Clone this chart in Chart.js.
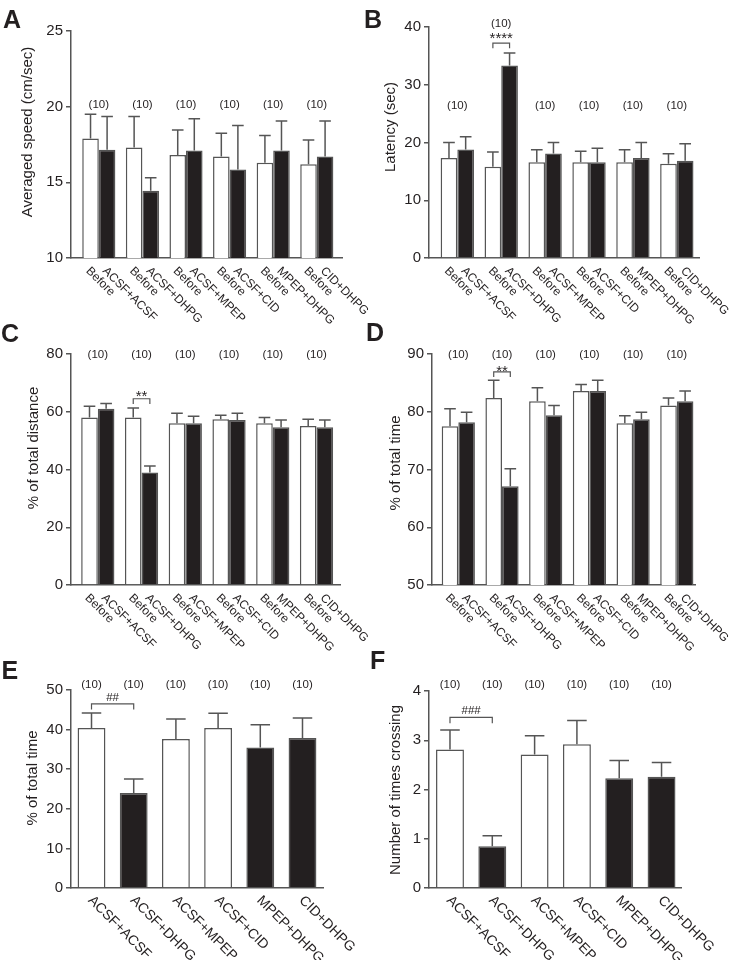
<!DOCTYPE html>
<html lang="en">
<head>
<meta charset="UTF-8">
<title>Open field: before vs drug</title>
<style>
  body { margin: 0; background: #fff; }
  #fig { position: relative; width: 729px; height: 960px; overflow: hidden; background: #fff; }
  .panel { position: absolute; }
  .tag {
    position: absolute;
    font-family: "Liberation Sans", Arial, sans-serif;
    font-weight: bold;
    font-size: 25px;
    line-height: 25px;
    color: #231f20;
  }
</style>
<script src="https://cdn.jsdelivr.net/npm/chart.js"></script>
</head>
<body>
<div id="fig"></div>
<script>
// groups and n per group
const groupNames = ['ACSF+ACSF', 'ACSF+DHPG', 'ACSF+MPEP', 'ACSF+CID', 'MPEP+DHPG', 'CID+DHPG'];
const beforeName = 'Before';
const nAnimals = [10, 10, 10, 10, 10, 10];

// A - averaged speed (cm/sec)
const speedTicks = [10, 15, 20, 25];
const speedBefore = [17.9, 17.3, 16.8, 16.7, 16.3, 16.2];
const speedBeforeSem = [1.6, 2.05, 1.65, 1.55, 1.8, 1.6];
const speedAfter = [17.15, 14.45, 17.1, 15.85, 17.1, 16.7];
const speedAfterSem = [2.2, 0.85, 2.1, 2.9, 1.95, 2.35];

// B - latency (sec)
const latencyTicks = [0, 10, 20, 30, 40];
const latencyBefore = [17.3, 15.8, 16.6, 16.6, 16.6, 16.3];
const latencyBeforeSem = [2.7, 2.55, 2.15, 1.9, 2.15, 1.75];
const latencyAfter = [18.8, 33.35, 18.1, 16.6, 17.3, 16.85];
const latencyAfterSem = [2.2, 2.15, 1.9, 2.4, 2.7, 2.95];

// C - % of total distance
const distTicks = [0, 20, 40, 60, 80];
const distBefore = [58.0, 58.0, 56.0, 57.4, 56.0, 55.1];
const distBeforeSem = [3.9, 3.3, 3.5, 1.4, 2.0, 2.3];
const distAfter = [61.0, 39.0, 56.0, 57.1, 54.6, 54.6];
const distAfterSem = [1.9, 2.2, 2.4, 2.4, 2.5, 2.5];

// D - % of total time
const timeTicks = [50, 60, 70, 80, 90];
const timeBefore = [77.5, 82.4, 81.8, 83.6, 78.0, 81.1];
const timeBeforeSem = [3.0, 3.05, 2.35, 1.1, 1.3, 1.3];
const timeAfter = [78.2, 67.1, 79.4, 83.6, 78.7, 81.8];
const timeAfterSem = [1.7, 3.05, 1.7, 1.85, 1.2, 1.8];

// E - % of total time (single bars)
const centerTicks = [0, 10, 20, 30, 40, 50];
const centerTime = [40.4, 24.0, 37.6, 40.4, 35.5, 37.9];
const centerTimeSem = [3.8, 3.5, 5.1, 3.7, 5.7, 5.0];

// F - number of times crossing
const crossTicks = [0, 1, 2, 3, 4];
const crossings = [2.81, 0.85, 2.71, 2.92, 2.23, 2.26];
const crossingsSem = [0.40, 0.21, 0.38, 0.48, 0.36, 0.29];

const INK = '#231f20';
const AXIS = '#555';
const FONT = '"Liberation Sans", Arial, sans-serif';
Chart.defaults.font.family = FONT;
Chart.defaults.color = INK;

// layout of each panel (page pixels)
const panels = [
  { tag: 'A', tagAt: [3, 7], box: [0, 0, 372, 330], plot: [71, 31, 342, 258], xr: [-0.638, 5.578],
    ticks: speedTicks, title: 'Averaged speed (cm/sec)', titleAt: [28, 132],
    sets: [[speedBefore, speedBeforeSem], [speedAfter, speedAfterSem]],
    nY: [20.1, 20.1, 20.1, 20.1, 20.1, 20.1], sig: null },
  { tag: 'B', tagAt: [364, 7], box: [365, 0, 364, 330], plot: [429, 27, 699, 258], xr: [-0.645, 5.505],
    ticks: latencyTicks, title: 'Latency (sec)', titleAt: [391, 127],
    sets: [[latencyBefore, latencyBeforeSem], [latencyAfter, latencyAfterSem]],
    nY: [26.4, 40.55, 26.4, 26.4, 26.4, 26.4],
    sig: { a: [0, 1], b: [1, 1], top: 37.2, leg: 36.3, text: '****', size: 15, textY: 37.9 } },
  { tag: 'C', tagAt: [1, 321], box: [0, 320, 372, 340], plot: [71, 354, 340, 585], xr: [-0.613, 5.537],
    ticks: distTicks, title: '% of total distance', titleAt: [34, 448],
    sets: [[distBefore, distBeforeSem], [distAfter, distAfterSem]],
    nY: [79.7, 79.7, 79.7, 79.7, 79.7, 79.7],
    sig: { a: [0, 1], b: [1, 1], top: 64.5, leg: 62.7, text: '**', size: 15, textY: 65.2 } },
  { tag: 'D', tagAt: [366, 320], box: [365, 320, 364, 340], plot: [432, 354, 695, 585], xr: [-0.602, 5.416],
    ticks: timeTicks, title: '% of total time', titleAt: [396, 463],
    sets: [[timeBefore, timeBeforeSem], [timeAfter, timeAfterSem]],
    nY: [89.8, 89.8, 89.8, 89.8, 89.8, 89.8],
    sig: { a: [0, 1], b: [1, 1], top: 86.9, leg: 86.0, text: '**', size: 15, textY: 86.95 } },
  { tag: 'E', tagAt: [1.5, 658], box: [0, 630, 372, 330], plot: [71, 690, 323, 888], xr: [-0.486, 5.486],
    ticks: centerTicks, title: '% of total time', titleAt: [33, 778],
    sets: [[centerTime, centerTimeSem]],
    nY: [51.3, 51.3, 51.3, 51.3, 51.3, 51.3],
    sig: { a: [0, 0], b: [0, 1], top: 46.5, leg: 45.1, text: '##', size: 11.5, textY: 47.9 } },
  { tag: 'F', tagAt: [370, 648], box: [365, 630, 364, 330], plot: [429, 691, 681, 888], xr: [-0.496, 5.46],
    ticks: crossTicks, title: 'Number of times crossing', titleAt: [396, 790],
    sets: [[crossings, crossingsSem]],
    nY: [4.12, 4.12, 4.12, 4.12, 4.12, 4.12],
    sig: { a: [0, 0], b: [0, 1], top: 3.466, leg: 3.344, text: '###', size: 11.5, textY: 3.6 } }
];

// error bars, rotated labels, n counts, brackets and y title
function decor(p) {
  const paired = p.sets.length === 2;
  return {
    id: 'decor',
    afterDatasetsDraw(chart) {
      const ctx = chart.ctx, y = chart.scales.y;
      ctx.save();
      ctx.strokeStyle = AXIS;
      ctx.lineWidth = 1.5;
      chart.data.datasets.forEach((ds, d) => {
        chart.getDatasetMeta(d).data.forEach((bar, i) => {
          const top = y.getPixelForValue(ds.data[i].y + ds.sem[i]);
          const cap = bar.width * 0.35;
          ctx.beginPath();
          ctx.moveTo(bar.x, bar.y);
          ctx.lineTo(bar.x, top);
          ctx.moveTo(bar.x - cap, top);
          ctx.lineTo(bar.x + cap, top);
          ctx.stroke();
        });
      });
      ctx.restore();
    },
    afterDraw(chart) {
      const ctx = chart.ctx, y = chart.scales.y, base = chart.chartArea.bottom;
      const metas = chart.data.datasets.map((_, d) => chart.getDatasetMeta(d).data);
      ctx.save();
      ctx.fillStyle = INK;

      // category labels, turned 45 deg clockwise
      const lsize = paired ? 12 : 14;
      const dx = paired ? 5 : 4, dy = paired ? 13.5 : 13;
      ctx.font = lsize + 'px ' + FONT;
      ctx.textAlign = 'left';
      ctx.textBaseline = 'alphabetic';
      chart.data.datasets.forEach((ds, d) => {
        metas[d].forEach((bar, i) => {
          ctx.save();
          ctx.translate(bar.x - dx, base + dy);
          ctx.rotate(Math.PI / 4);
          ctx.fillText(ds.names[i], 0, 0);
          ctx.restore();
        });
      });

      // (n)
      ctx.font = '11.5px ' + FONT;
      ctx.textAlign = 'center';
      ctx.textBaseline = 'middle';
      nAnimals.forEach((n, i) => {
        const xs = metas.map(m => m[i].x);
        const cx = (Math.min(...xs) + Math.max(...xs)) / 2;
        ctx.fillText('(' + n + ')', cx, y.getPixelForValue(p.nY[i]));
      });

      // significance bracket
      if (p.sig) {
        const s = p.sig;
        const xa = metas[s.a[0]][s.a[1]].x, xb = metas[s.b[0]][s.b[1]].x;
        const yt = y.getPixelForValue(s.top), yl = y.getPixelForValue(s.leg);
        ctx.strokeStyle = AXIS;
        ctx.lineWidth = 1.2;
        ctx.beginPath();
        ctx.moveTo(xa, yl);
        ctx.lineTo(xa, yt);
        ctx.lineTo(xb, yt);
        ctx.lineTo(xb, yl);
        ctx.stroke();
        ctx.font = s.size + 'px ' + FONT;
        ctx.fillText(s.text, (xa + xb) / 2, y.getPixelForValue(s.textY));
      }

      // y axis title
      ctx.font = '15px ' + FONT;
      ctx.translate(p.titleAt[0] - p.box[0], p.titleAt[1] - p.box[1]);
      ctx.rotate(-Math.PI / 2);
      ctx.fillText(p.title, 0, 0);
      ctx.restore();
    }
  };
}

const fig = document.getElementById('fig');

function buildPanel(p) {
  const [L, T, W, H] = p.box;
  const [pl, pt, pr, pb] = p.plot;
  const paired = p.sets.length === 2;

  const wrap = document.createElement('div');
  wrap.className = 'panel';
  wrap.style.cssText = `left:${L}px;top:${T}px;width:${W}px;height:${H}px`;
  const cv = document.createElement('canvas');
  cv.width = W;
  cv.height = H;
  wrap.appendChild(cv);
  fig.appendChild(wrap);

  const datasets = p.sets.map(([vals, sem], d) => ({
    data: vals.map((v, i) => ({ x: i, y: v })),
    sem: sem,
    names: paired && d === 0 ? groupNames.map(() => beforeName) : groupNames,
    backgroundColor: paired
      ? (d === 0 ? '#fff' : INK)
      : groupNames.map(n => n.includes('DHPG') ? INK : '#fff'),
    borderColor: AXIS,
    borderWidth: 1.5,
    categoryPercentage: paired ? 0.76 : 0.66,
    barPercentage: 1
  }));

  new Chart(cv, {
    type: 'bar',
    data: { datasets },
    options: {
      responsive: false,
      animation: false,
      events: [],
      layout: { padding: { left: 0, top: pt - T, right: L + W - pr, bottom: T + H - pb - 4 } },
      plugins: { legend: { display: false }, tooltip: { enabled: false } },
      scales: {
        x: {
          type: 'linear',
          offset: false,
          min: p.xr[0],
          max: p.xr[1],
          grid: { display: false, offset: false },
          border: { display: true, color: AXIS, width: 1.5 },
          ticks: { display: false },
          afterBuildTicks: s => { s.ticks = groupNames.map((_, i) => ({ value: i })); },
          afterFit: s => { s.height = 4; }
        },
        y: {
          min: p.ticks[0],
          max: p.ticks[p.ticks.length - 1],
          afterBuildTicks: s => { s.ticks = p.ticks.map(v => ({ value: v })); },
          afterFit: s => { s.width = pl - L; },
          grid: { drawOnChartArea: false, tickLength: 5, color: AXIS, lineWidth: 1.5 },
          border: { display: true, color: AXIS, width: 1.5 },
          ticks: { color: INK, font: { size: 15 }, padding: 3 }
        }
      }
    },
    plugins: [decor(p)]
  });

  const tag = document.createElement('div');
  tag.className = 'tag';
  tag.textContent = p.tag;
  tag.style.left = p.tagAt[0] + 'px';
  tag.style.top = p.tagAt[1] + 'px';
  fig.appendChild(tag);
}

panels.forEach(buildPanel);
</script>
</body>
</html>
